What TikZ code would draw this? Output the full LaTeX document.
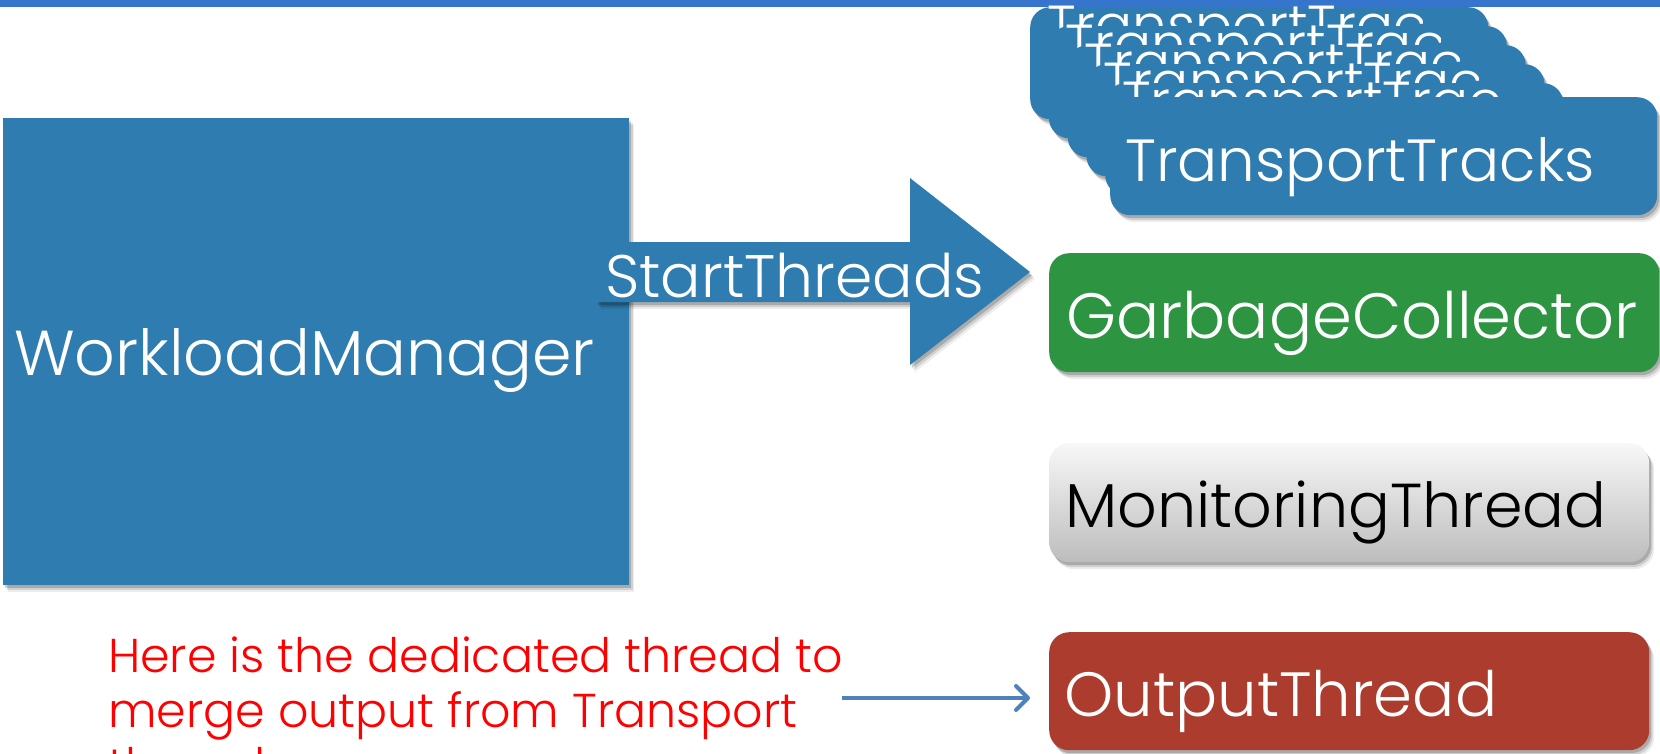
\documentclass[tikz,border=0pt]{standalone}
\usepackage{fontspec}
\setmainfont{Poppins Light}
\usetikzlibrary{shadows,arrows.meta}

\definecolor{topbar}{RGB}{53,117,204}
\definecolor{feltblue}{RGB}{46,124,176}
\definecolor{feltgreen}{RGB}{45,148,66}
\definecolor{feltred}{RGB}{172,60,46}
\definecolor{linkblue}{RGB}{79,129,189}

\tikzset{
  % soft shadow built from a few faint offset layers
  shadowed/.style={
    drop shadow={shadow xshift=5pt, shadow yshift=-7pt, fill=black, opacity=0.07},
    drop shadow={shadow xshift=3.5pt, shadow yshift=-5pt, fill=black, opacity=0.12},
    drop shadow={shadow xshift=2pt, shadow yshift=-3pt, fill=black, opacity=0.18}},
  card/.style={rounded corners=20pt, shadowed, draw=none, inner sep=0pt, anchor=north west},
  slab/.style={shadowed, draw=none, inner sep=0pt, anchor=north west},
  lbl/.style={inner sep=0pt, anchor=base west, text=white, font=\fontsize{64}{70}\selectfont},
  backlbl/.style={inner sep=0pt, anchor=base west, text=white, font=\fontsize{55}{60}\selectfont},
  note/.style={inner sep=0pt, anchor=base west, text=red, font=\fontsize{47.5}{55}\selectfont},
}

\begin{document}
\begin{tikzpicture}[x=1pt, y=-1pt]
  \useasboundingbox (0,0) rectangle (1660,753);
  \clip (0,0) rectangle (1660,753);
  \fill[white] (0,0) rectangle (1660,753);

  % header strip
  \fill[topbar] (0,0) rectangle (1660,7);

  % manager block
  \node[slab, fill=feltblue, minimum width=626pt, minimum height=467pt] (manager) at (3,118) {};
  \node[lbl, font=\fontsize{63.5}{70}\selectfont] (managerText) at (14,375) {WorkloadManager};

  % fat arrow carrying the StartThreads label
  \fill[feltblue, shadowed] (596,242) -- (910,242) -- (910,178) -- (1030,272)
    -- (910,365) -- (910,302) -- (596,302) -- cycle;
  \node[lbl, font=\fontsize{60}{66}\selectfont] (startText) at (605,297) {StartThreads};

  % stacked copies of the transport card, labels cut by their text frame
  \foreach \i in {0,...,4} {
    \pgfmathsetmacro{\bx}{1030+18.75*\i}
    \pgfmathsetmacro{\by}{7+19*\i}
    \node[card, fill=feltblue, minimum width=458pt, minimum height=112pt] (copy\i) at (\bx,\by) {};
    \begin{scope}
      \clip (\bx,0) rectangle ({\bx+392},{\by+112});
      \node[backlbl] (copyText\i) at ({\bx+17},{\by+37}) {TransportTracks};
    \end{scope}
  }

  % front transport card
  \node[card, fill=feltblue, minimum width=547pt, minimum height=118pt] (tracks) at (1110,97) {};
  \node[lbl, font=\fontsize{59.5}{66}\selectfont] (tracksText) at (1125,181) {TransportTracks};

  % garbage collector
  \node[card, fill=feltgreen, minimum width=610pt, minimum height=119pt] (garbage) at (1049,253) {};
  \node[lbl] (garbageText) at (1066,338) {GarbageCollector};

  % monitoring thread
  \node[card, top color=black!3, bottom color=black!26, minimum width=600pt, minimum height=119pt] (monitor) at (1049,443) {};
  \node[lbl, text=black, font=\fontsize{62}{68}\selectfont] (monitorText) at (1065,527) {MonitoringThread};

  % output thread
  \node[card, fill=feltred, minimum width=600pt, minimum height=118pt] (output) at (1049,632) {};
  \node[lbl, font=\fontsize{62.5}{68}\selectfont] (outputText) at (1064,716) {OutputThread};

  % explanatory note
  \node[note] (note1) at (108,672) {Here is the dedicated thread to};
  \node[note] (note2) at (108,727) {merge output from Transport};
  \node[note] (note3) at (108,782) {threads};

  \coordinate (noteTail) at (842,698);
  \draw[linkblue, line width=4pt, shorten >=19pt,
        -{Straight Barb[round, length=12pt, width=24pt]}]
    (noteTail) -- (output.west |- noteTail);
\end{tikzpicture}
\end{document}
